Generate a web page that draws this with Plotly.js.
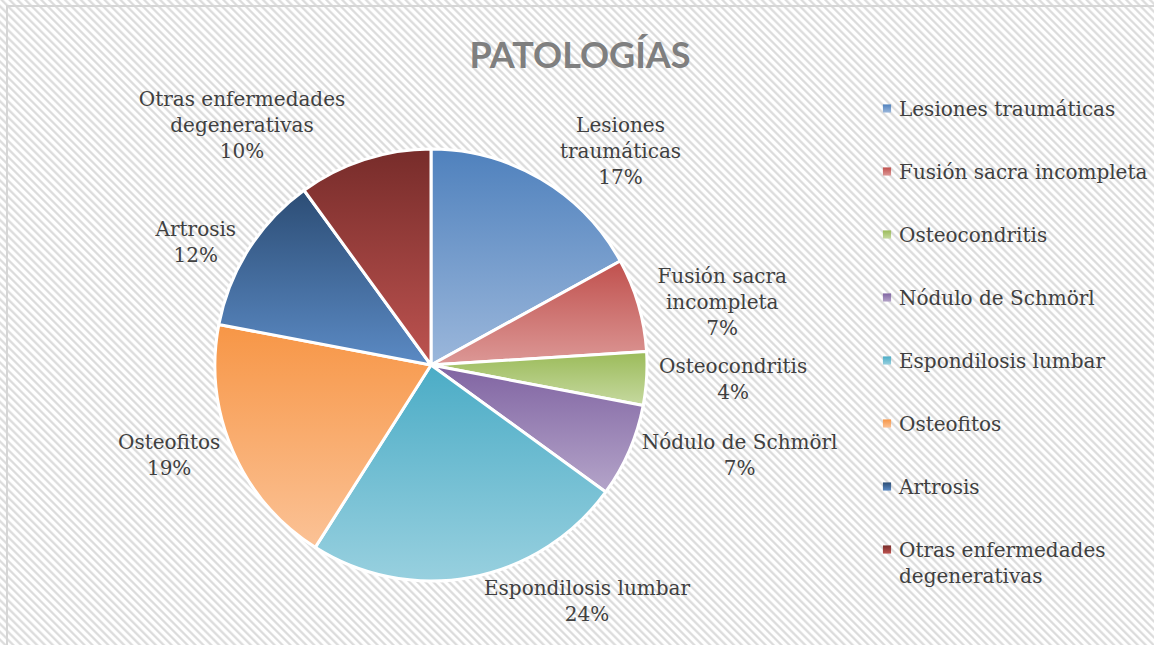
<!DOCTYPE html>
<html>
<head>
<meta charset="utf-8">
<script src="https://cdn.plot.ly/plotly-3.0.1.min.js"></script>
<style>
  html, body { margin: 0; padding: 0; background: #ffffff; }
  #wrap {
    position: absolute; left: 0; top: 0; width: 1154px; height: 645px; overflow: hidden;
    background: repeating-linear-gradient(45deg, #ffffff 0px, #ffffff 2px, #dcdcdc 3.2px, #dcdcdc 4.2px, #ffffff 5.6px);
  }
  #frame {
    position: absolute; left: 6px; top: 5px; width: 1160px; height: 660px;
    border-left: 2px solid #d6d6d6; border-top: 2px solid #d6d6d6;
  }
  #chart { position: absolute; left: 0; top: 0; width: 1154px; height: 645px; }
</style>
</head>
<body>
<div id="wrap"><div id="frame"></div><div id="chart"></div></div>
<script>
// ---- data ----
const categories = ["Lesiones traumáticas", "Fusión sacra incompleta", "Osteocondritis", "Nódulo de Schmörl",
                    "Espondilosis lumbar", "Osteofitos", "Artrosis", "Otras enfermedades<br>degenerativas"];
const sliceLabels = ["Lesiones<br>traumáticas", "Fusión sacra<br>incompleta", "Osteocondritis", "Nódulo de Schmörl",
                     "Espondilosis lumbar", "Osteofitos", "Artrosis", "Otras enfermedades<br>degenerativas"];
const values = [17, 7, 4, 7, 24, 19, 12, 10];

// ---- style ----
const topColors    = ["#4f81bd", "#c0504d", "#9bbb59", "#8064a2", "#4bacc6", "#f79646", "#2c4d75", "#772c2a"];
const bottomColors = ["#9bb7db", "#dc9896", "#c6d9a0", "#b4a4c9", "#98d0df", "#fbc296", "#5b8ac4", "#bd5350"];

const W = 1154, H = 645;
const cx = 431, cy = 365, R = 216;
const legendFontSize = 20;

const trace = {
  type: "pie",
  labels: categories,
  values: values,
  customdata: sliceLabels,
  sort: false,
  direction: "clockwise",
  rotation: 0,
  marker: { colors: topColors, line: { color: "#ffffff", width: 3 } },
  textposition: "outside",
  texttemplate: "%{customdata}<br>%{percent:.0%}",
  hoverinfo: "none",
  outsidetextfont: { family: "DejaVu Serif", size: 20, color: "#404040" },
  domain: { x: [(cx - R) / W, (cx + R) / W], y: [1 - (cy + R) / H, 1 - (cy - R) / H] }
};

const layout = {
  width: W, height: H,
  margin: { l: 0, r: 0, t: 0, b: 0 },
  paper_bgcolor: "rgba(0,0,0,0)",
  plot_bgcolor: "rgba(0,0,0,0)",
  title: {
    text: "PATOLOGÍAS",
    font: { family: "Lato", size: 36, color: "#7f7f7f", weight: "bold" },
    x: 580 / W, xanchor: "center",
    y: 1 - 55 / H, yanchor: "middle", yref: "container"
  },
  showlegend: true,
  legend: {
    x: 859 / W, xanchor: "left",
    y: 1 - 89 / H, yanchor: "top",
    valign: "top",
    bgcolor: "rgba(0,0,0,0)",
    font: { family: "DejaVu Serif", size: legendFontSize, color: "#404040" },
    traceorder: "normal"
  }
};

Plotly.newPlot("chart", [trace], layout, { displayModeBar: false, staticPlot: true }).then(function (gd) {
  const svg = gd.querySelector("svg.main-svg");
  const NS = "http://www.w3.org/2000/svg";
  let defs = svg.querySelector("defs");
  if (!defs) { defs = document.createElementNS(NS, "defs"); svg.insertBefore(defs, svg.firstChild); }
  topColors.forEach(function (c, i) {
    const g = document.createElementNS(NS, "linearGradient");
    g.setAttribute("id", "sliceGrad" + i);
    g.setAttribute("x1", "0"); g.setAttribute("y1", "0");
    g.setAttribute("x2", "0"); g.setAttribute("y2", "1");
    const s1 = document.createElementNS(NS, "stop");
    s1.setAttribute("offset", "0"); s1.setAttribute("stop-color", c);
    const s2 = document.createElementNS(NS, "stop");
    s2.setAttribute("offset", "1"); s2.setAttribute("stop-color", bottomColors[i]);
    g.appendChild(s1); g.appendChild(s2);
    defs.appendChild(g);
  });
  gd.querySelectorAll("g.slice").forEach(function (s, i) {
    const p = s.querySelector("path.surface");
    if (p) p.style.fill = "url(#sliceGrad" + i + ")";
  });
  // legend: spacing and symbols
  gd.querySelectorAll("g.legend g.scrollbox, g.legend").forEach(function (el) {
    el.removeAttribute("clip-path");
  });
  const items = gd.querySelectorAll("g.legend g.traces");
  const lineH = legendFontSize * 1.3;
  let x0 = 0, y0 = 0;
  items.forEach(function (it, i) {
    const m = /translate\(([-\d.]+)[ ,]+([-\d.]+)\)/.exec(it.getAttribute("transform") || "");
    if (i === 0 && m) { x0 = parseFloat(m[1]); y0 = parseFloat(m[2]); }
    const nLines = Math.max(1, it.querySelectorAll("text.legendtext tspan.line").length);
    const extra = (nLines - 1) * lineH / 2;
    it.setAttribute("transform", "translate(" + x0 + "," + (y0 + i * 63 + extra) + ")");
    const lp = it.querySelector("g.legendpoints path");
    if (lp) {
      lp.style.fill = "url(#sliceGrad" + i + ")";
      lp.style.strokeWidth = "0";
      lp.setAttribute("transform", "translate(28,0) scale(0.68)");
    }
  });
  gd.querySelectorAll("g.legend rect.scrollbar").forEach(function (r) { r.style.display = "none"; });
});
</script>
</body>
</html>
